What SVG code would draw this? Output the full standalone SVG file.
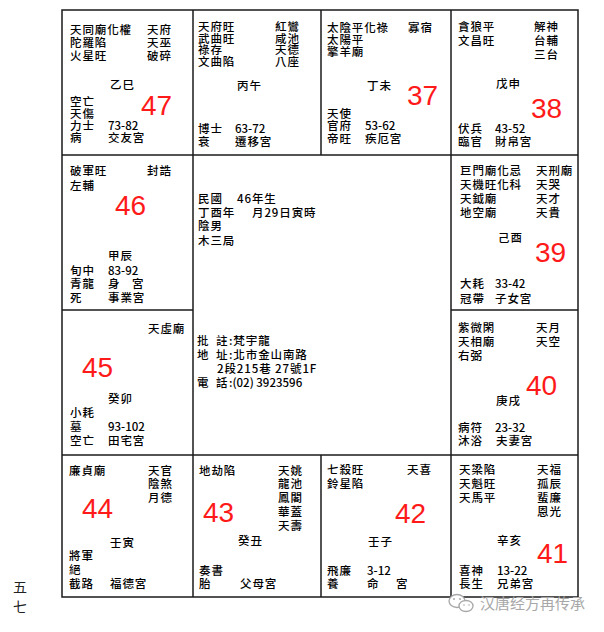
<svg xmlns="http://www.w3.org/2000/svg" width="604" height="632" viewBox="0 0 604 632">
<style>
.t{font-family:"Noto Sans CJK TC","Noto Sans CJK SC",sans-serif;font-size:11.5px;font-weight:500;letter-spacing:0.9px;fill:#000}
.d{letter-spacing:0}
.n{font-family:"Liberation Sans",Arial,sans-serif;font-size:28px;fill:#ff1a1a}
.g{stroke:#1a1a1a;stroke-width:1.5;fill:none}
.wm{font-family:"Noto Sans CJK SC",sans-serif;font-size:15px;fill:#a8a8a8}
.pg{font-family:"Noto Sans CJK TC",sans-serif;font-size:14px;fill:#222}
</style>
<rect width="604" height="632" fill="#fff"/>
<g id="connectors" class="g">
<rect x="62" y="10" width="516" height="587"/>
<line x1="62" y1="155" x2="578" y2="155"/>
<line x1="62" y1="455" x2="578" y2="455"/>
<line x1="62" y1="310" x2="193" y2="310"/>
<line x1="451" y1="310" x2="578" y2="310"/>
<line x1="193" y1="10" x2="193" y2="597"/>
<line x1="451" y1="10" x2="451" y2="597"/>
<line x1="321" y1="10" x2="321" y2="155"/>
<line x1="321" y1="455" x2="321" y2="597"/>
</g>
<g id="p-si">
<text class="t"><tspan x="70" y="34">天同廟化權</tspan><tspan x="70" y="47">陀羅陷</tspan><tspan x="70" y="60">火星旺</tspan></text>
<text class="t"><tspan x="147" y="34">天府</tspan><tspan x="147" y="47">天巫</tspan><tspan x="147" y="60">破碎</tspan></text>
<text class="t" x="110" y="89">乙巳</text>
<text class="t"><tspan x="70" y="106">空亡</tspan><tspan x="70" y="118">天傷</tspan><tspan x="70" y="130">力士</tspan><tspan x="70" y="142">病</tspan></text>
<text class="t"><tspan class="d" x="108" y="130">73-82</tspan><tspan x="108" y="142">交友宮</tspan></text>
<text class="n" x="141" y="115">47</text>
</g>
<g id="p-wu">
<text class="t"><tspan x="198" y="31">天府旺</tspan><tspan x="198" y="42.5">武曲旺</tspan><tspan x="198" y="54">祿存</tspan><tspan x="198" y="65.5">文曲陷</tspan></text>
<text class="t"><tspan x="275" y="31">紅鸞</tspan><tspan x="275" y="42.5">咸池</tspan><tspan x="275" y="54">天德</tspan><tspan x="275" y="65.5">八座</tspan></text>
<text class="t" x="237" y="90">丙午</text>
<text class="t"><tspan x="198" y="133">博士</tspan><tspan x="198" y="146">衰</tspan></text>
<text class="t"><tspan class="d" x="235" y="133">63-72</tspan><tspan x="235" y="146">遷移宮</tspan></text>
</g>
<g id="p-wei">
<text class="t"><tspan x="327" y="32">太陰平化祿</tspan><tspan x="327" y="44">太陽平</tspan><tspan x="327" y="56">擎羊廟</tspan></text>
<text class="t" x="408" y="32">寡宿</text>
<text class="t" x="367" y="90">丁未</text>
<text class="t"><tspan x="327" y="118">天使</tspan><tspan x="327" y="130">官府</tspan><tspan x="327" y="143">帝旺</tspan></text>
<text class="t"><tspan class="d" x="365" y="130">53-62</tspan><tspan x="365" y="143">疾厄宮</tspan></text>
<text class="n" x="407" y="105">37</text>
</g>
<g id="p-shen">
<text class="t"><tspan x="458" y="31">貪狼平</tspan><tspan x="458" y="45">文昌旺</tspan></text>
<text class="t"><tspan x="534" y="31">解神</tspan><tspan x="534" y="45">台輔</tspan><tspan x="534" y="59">三台</tspan></text>
<text class="t" x="496" y="88">戊申</text>
<text class="t"><tspan x="458" y="133">伏兵</tspan><tspan x="458" y="146">臨官</tspan></text>
<text class="t"><tspan class="d" x="495" y="133">43-52</tspan><tspan x="495" y="146">財帛宮</tspan></text>
<text class="n" x="531" y="118">38</text>
</g>
<g id="p-chen">
<text class="t"><tspan x="70" y="175">破軍旺</tspan><tspan x="70" y="190">左輔</tspan></text>
<text class="t" x="147" y="175">封誥</text>
<text class="n" x="115" y="215">46</text>
<text class="t" x="108" y="260">甲辰</text>
<text class="t"><tspan x="70" y="275">旬中</tspan><tspan x="70" y="288">青龍</tspan><tspan x="70" y="302">死</tspan></text>
<text class="t"><tspan class="d" x="108" y="275">83-92</tspan><tspan x="108" y="288">身</tspan><tspan x="132" y="288">宮</tspan><tspan x="108" y="302">事業宮</tspan></text>
</g>
<g id="center">
<text class="t"><tspan x="198" y="203">民國</tspan><tspan x="237" y="203">46年生</tspan></text>
<text class="t"><tspan x="198" y="217">丁酉年</tspan><tspan x="252" y="217">月29日寅時</tspan></text>
<text class="t" x="198" y="230">陰男</text>
<text class="t" x="198" y="245">木三局</text>
<text class="t"><tspan x="197" y="345">批</tspan><tspan x="216" y="345">註</tspan><tspan x="229" y="345">:梵宇龍</tspan></text>
<text class="t"><tspan x="197" y="359">地</tspan><tspan x="216" y="359">址</tspan><tspan x="229" y="359">:北市金山南路</tspan></text>
<text class="t" x="217" y="373">2段215巷 27號1F</text>
<text class="t"><tspan x="197" y="387">電</tspan><tspan x="216" y="387">話</tspan><tspan class="d" x="229" y="387">:(02) 3923596</tspan></text>
</g>
<g id="p-you">
<text class="t"><tspan x="460" y="175">巨門廟化忌</tspan><tspan x="460" y="189">天機旺化科</tspan><tspan x="460" y="203">天鉞廟</tspan><tspan x="460" y="217">地空廟</tspan></text>
<text class="t"><tspan x="536" y="175">天刑廟</tspan><tspan x="536" y="189">天哭</tspan><tspan x="536" y="203">天才</tspan><tspan x="536" y="217">天貴</tspan></text>
<text class="t" x="498" y="242">己酉</text>
<text class="n" x="535" y="262">39</text>
<text class="t"><tspan x="460" y="288">大耗</tspan><tspan x="460" y="303">冠帶</tspan></text>
<text class="t"><tspan class="d" x="495" y="288">33-42</tspan><tspan x="495" y="303">子女宮</tspan></text>
</g>
<g id="p-mao">
<text class="t" x="148" y="333">天虛廟</text>
<text class="n" x="82" y="377">45</text>
<text class="t" x="108" y="403">癸卯</text>
<text class="t"><tspan x="70" y="417">小耗</tspan><tspan x="70" y="431">墓</tspan><tspan x="70" y="445">空亡</tspan></text>
<text class="t"><tspan class="d" x="108" y="431">93-102</tspan><tspan x="108" y="445">田宅宮</tspan></text>
</g>
<g id="p-xu">
<text class="t"><tspan x="458" y="332">紫微閑</tspan><tspan x="458" y="346">天相廟</tspan><tspan x="458" y="360">右弼</tspan></text>
<text class="t"><tspan x="536" y="332">天月</tspan><tspan x="536" y="346">天空</tspan></text>
<text class="n" x="526" y="395">40</text>
<text class="t" x="496" y="405">庚戌</text>
<text class="t"><tspan x="458" y="432">病符</tspan><tspan x="458" y="445">沐浴</tspan></text>
<text class="t"><tspan class="d" x="495" y="432">23-32</tspan><tspan x="496" y="445">夫妻宮</tspan></text>
</g>
<g id="p-yin">
<text class="t" x="69" y="475">廉貞廟</text>
<text class="t"><tspan x="148" y="475">天官</tspan><tspan x="148" y="488">陰煞</tspan><tspan x="148" y="502">月德</tspan></text>
<text class="n" x="82" y="518">44</text>
<text class="t" x="110" y="547">壬寅</text>
<text class="t"><tspan x="69" y="560">將軍</tspan><tspan x="69" y="574">絕</tspan><tspan x="69" y="588">截路</tspan></text>
<text class="t" x="110" y="588">福德宮</text>
</g>
<g id="p-chou">
<text class="t" x="199" y="475">地劫陷</text>
<text class="t"><tspan x="278" y="475">天姚</tspan><tspan x="278" y="488">龍池</tspan><tspan x="278" y="502">鳳閣</tspan><tspan x="278" y="516">華蓋</tspan><tspan x="278" y="530">天壽</tspan></text>
<text class="n" x="203" y="522">43</text>
<text class="t" x="238" y="545">癸丑</text>
<text class="t"><tspan x="199" y="575">奏書</tspan><tspan x="199" y="588">胎</tspan></text>
<text class="t" x="240" y="588">父母宮</text>
</g>
<g id="p-zi">
<text class="t"><tspan x="327" y="474">七殺旺</tspan><tspan x="327" y="488">鈴星陷</tspan></text>
<text class="t" x="407" y="474">天喜</text>
<text class="n" x="395" y="523">42</text>
<text class="t" x="368" y="546">壬子</text>
<text class="t"><tspan x="327" y="575">飛廉</tspan><tspan x="327" y="588">養</tspan></text>
<text class="t"><tspan class="d" x="367" y="575">3-12</tspan><tspan x="367" y="588">命</tspan><tspan x="396" y="588">宮</tspan></text>
</g>
<g id="p-hai">
<text class="t"><tspan x="459" y="474">天梁陷</tspan><tspan x="459" y="488">天魁旺</tspan><tspan x="459" y="502">天馬平</tspan></text>
<text class="t"><tspan x="537" y="474">天福</tspan><tspan x="537" y="488">孤辰</tspan><tspan x="537" y="502">蜚廉</tspan><tspan x="537" y="516">恩光</tspan></text>
<text class="t" x="497" y="545">辛亥</text>
<text class="n" x="537" y="563">41</text>
<text class="t"><tspan x="459" y="575">喜神</tspan><tspan x="459" y="588">長生</tspan></text>
<text class="t"><tspan class="d" x="497" y="575">13-22</tspan><tspan x="497" y="588">兄弟宮</tspan></text>
</g>
<g id="page-number">
<text class="pg" x="13" y="592">五</text>
<text class="pg" x="13" y="612">七</text>
</g>
<g id="watermark">
<ellipse cx="457" cy="601" rx="8" ry="6.5" fill="#fff" stroke="#a8a8a8" stroke-width="1.3"/>
<ellipse cx="466" cy="606" rx="7" ry="5.5" fill="#fff" stroke="#a8a8a8" stroke-width="1.3"/>
<circle cx="454" cy="599" r="1" fill="#a8a8a8"/><circle cx="460" cy="599" r="1" fill="#a8a8a8"/>
<circle cx="464" cy="605" r="0.8" fill="#a8a8a8"/><circle cx="469" cy="605" r="0.8" fill="#a8a8a8"/>
<text class="wm" x="480" y="609">汉唐经方再传承</text>
</g>
</svg>
